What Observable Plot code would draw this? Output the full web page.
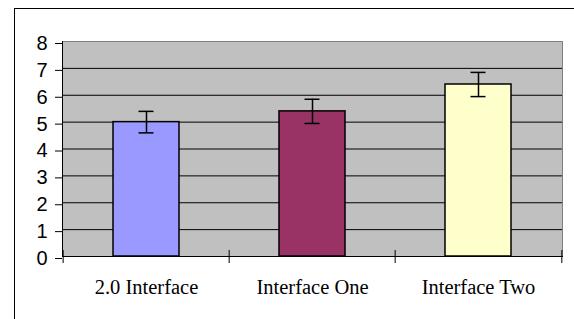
<!DOCTYPE html>
<html>
<head>
<meta charset="utf-8">
<script src="https://cdn.jsdelivr.net/npm/d3@7"></script>
<script src="https://cdn.jsdelivr.net/npm/@observablehq/plot@0.6"></script>
<style>
  html, body { margin: 0; padding: 0; background: #fff; overflow: hidden; }
  #wrap { position: relative; width: 574px; height: 319px; overflow: hidden; }
  #frame { position: absolute; left: 14px; top: 8px; width: 700px; height: 400px;
           border-left: 1px solid #000; border-top: 1px solid #000; pointer-events: none; }
  svg { display: block; }
</style>
</head>
<body>
<div id="wrap"><div id="chart"></div><div id="frame"></div></div>
<script>
const categories = ["2.0 Interface", "Interface One", "Interface Two"];
const means = [5.0, 5.4, 6.4];
const errors = [0.4, 0.45, 0.45];
const barColors = ["#9999FF", "#993366", "#FFFFCC"];
const yTicks = [0, 1, 2, 3, 4, 5, 6, 7, 8];

const data = categories.map((c, i) => ({
  category: c, mean: means[i], lo: means[i] - errors[i], hi: means[i] + errors[i], color: barColors[i]
}));

const W = 574, H = 319, mL = 62, mR = 12, mT = 41, mB = 63;
const step = (W - mL - mR) / categories.length;

const chart = Plot.plot({
  width: W, height: H,
  marginTop: mT, marginLeft: mL, marginRight: mR, marginBottom: mB,
  style: { background: "transparent", color: "black" },
  x: { domain: categories, paddingInner: 0.6, paddingOuter: 0.3, align: 0.5, axis: null, label: null },
  y: { domain: [0, 8], axis: null, label: null },
  color: { type: "identity" },
  marks: [
    Plot.frame({ fill: "#C0C0C0", stroke: "#808080" }),
    Plot.ruleY(yTicks.filter(t => t > 0 && t < 8), { stroke: "black", strokeWidth: 1 }),
    Plot.barY(data, { x: "category", y: "mean", fill: "color", stroke: "black", strokeWidth: 1.5 }),
    Plot.ruleX(data, { x: "category", y1: "lo", y2: "hi", stroke: "black", strokeWidth: 1.5 }),
    Plot.tickY(data, { x: "category", y: "hi", stroke: "black", strokeWidth: 1.5, insetLeft: 25.5, insetRight: 25.5 }),
    Plot.tickY(data, { x: "category", y: "lo", stroke: "black", strokeWidth: 1.5, insetLeft: 25.5, insetRight: 25.5 }),
    Plot.frame({ anchor: "left", stroke: "black" }),
    Plot.frame({ anchor: "bottom", stroke: "black" }),
    Plot.ruleX(categories, { x: d => d, y1: 0, y2: 0, insetTop: -6, insetBottom: -7, dx: -step / 2, stroke: "black" }),
    Plot.ruleX(categories.slice(-1), { x: d => d, y1: 0, y2: 0, insetTop: -6, insetBottom: -7, dx: step / 2, stroke: "black" }),
    Plot.axisY({ ticks: yTicks, tickSize: 7, tickPadding: 8, fontSize: 20, fontFamily: "Liberation Sans, Arial, sans-serif", dy: 2, tickFormat: d => String(d) }),
    Plot.axisX({ tickSize: 0, tickPadding: 23, fontSize: 20.5, fontFamily: "Liberation Serif, Times New Roman, serif" })
  ]
});
document.getElementById("chart").appendChild(chart);
</script>
</body>
</html>
